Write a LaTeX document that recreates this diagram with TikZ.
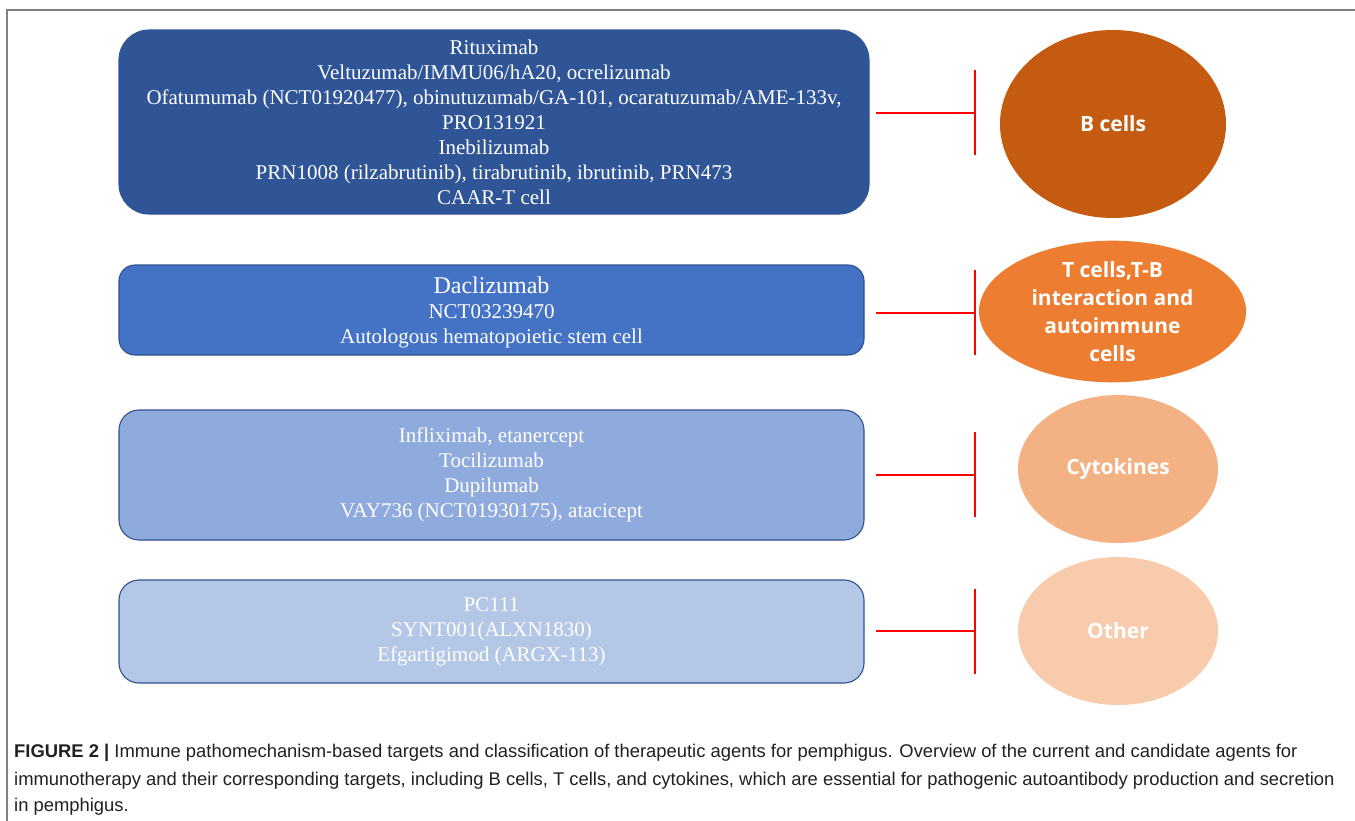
\documentclass[tikz,border=0pt]{standalone}
\usepackage{fontspec}
\setmainfont{Liberation Serif}
\newfontfamily\capfont{Liberation Sans}
\newfontfamily\elfont{Open Sans}
\usetikzlibrary{shapes.geometric}
\definecolor{frameg}{HTML}{808080}
\definecolor{bA}{HTML}{2F5597}
\definecolor{bB}{HTML}{4472C4}
\definecolor{bC}{HTML}{8FAADC}
\definecolor{bD}{HTML}{B4C7E7}
\definecolor{bord}{HTML}{2F528F}
\definecolor{eA}{HTML}{C55A11}
\definecolor{eB}{HTML}{ED7D31}
\definecolor{eC}{HTML}{F4B183}
\definecolor{eD}{HTML}{F8CBAD}
\definecolor{inhred}{HTML}{FF0000}
\definecolor{captxt}{HTML}{231F20}
\tikzset{
  drugbox/.style={draw=bord, line width=1.1pt, rounded corners=#1, text=white, align=center,
    font=\fontsize{21pt}{25pt}\selectfont, inner sep=0pt},
  target/.style={ellipse, draw=none, text=white, align=center, inner sep=0pt,
    font=\elfont\bfseries\fontsize{21pt}{28pt}\selectfont},
  inh/.style={draw=inhred, line width=2.6pt},
  capline/.style={anchor=base west, inner sep=0pt, text=captxt, font=\capfont\fontsize{18.4pt}{26pt}\selectfont}
}
\begin{document}
\begin{tikzpicture}[x=1pt,y=-1pt]
\useasboundingbox (0,0) rectangle (1355,820);
% frame
\draw[frameg, line width=1.4pt] (7,830) -- (7,10) -- (1360,10);
% drug boxes
\node[drugbox=30pt, fill=bA, draw=bA, minimum width=750pt, minimum height=184pt] (b1) at (494,122)
  {Rituximab\\Veltuzumab/IMMU06/hA20, ocrelizumab\\Ofatumumab (NCT01920477), obinutuzumab/GA-101, ocaratuzumab/AME-133v,\\PRO131921\\Inebilizumab\\PRN1008 (rilzabrutinib), tirabrutinib, ibrutinib, PRN473\\CAAR-T cell};
\node[drugbox=16pt, fill=bB, minimum width=745pt, minimum height=90pt] (b2) at (491.5,310) {};
\node[align=center, text=white, inner sep=0pt, font=\fontsize{21pt}{25pt}\selectfont] (b2t) at (491.5,312.5)
  {{\fontsize{24pt}{25pt}\selectfont Daclizumab}\\NCT03239470\\Autologous hematopoietic stem cell};
\node[drugbox=20pt, fill=bC, minimum width=745pt, minimum height=130pt] (b3) at (491.5,475)
  {Infliximab, etanercept\\Tocilizumab\\Dupilumab\\VAY736 (NCT01930175), atacicept};
\node[drugbox=20pt, fill=bD, minimum width=745pt, minimum height=103pt] (b4) at (491.5,631.5)
  {PC111\\SYNT001(ALXN1830)\\Efgartigimod (ARGX-113)};
% targets
\node[target, fill=eA, minimum width=226pt, minimum height=188pt] (e1) at (1113,124) {B cells};
\node[target, fill=eB, minimum width=267pt, minimum height=137pt] (e2) at (1112.5,311.5) {T cells,T-B\\interaction and\\autoimmune\\cells};
\node[target, fill=eC, minimum width=200pt, minimum height=148pt] (e3) at (1118,469) {Cytokines};
\node[target, fill=eD, minimum width=200pt, minimum height=148pt] (e4) at (1118,631) {Other};
% inhibition connectors
\coordinate (s1) at (876,113); \coordinate (t1) at (975,113);
\coordinate (s2) at (876,313); \coordinate (t2) at (975,313);
\coordinate (s3) at (876,475); \coordinate (t3) at (975,475);
\coordinate (s4) at (876,631); \coordinate (t4) at (975,631);
\draw[inh] (s1) -- (t1) (975,70) -- (975,155);
\draw[inh] (s2) -- (t2) (975,270) -- (975,355);
\draw[inh] (s3) -- (t3) (975,432) -- (975,517);
\draw[inh] (s4) -- (t4) (975,589) -- (975,674);
% caption
\node[capline] (c1) at (14,757) {{\bfseries FIGURE 2 |} Immune pathomechanism-based targets and classification of therapeutic agents for pemphigus. Overview of the current and candidate agents for};
\node[capline] (c2) at (14,785) {immunotherapy and their corresponding targets, including B cells, T cells, and cytokines, which are essential for pathogenic autoantibody production and secretion};
\node[capline] (c3) at (14,811) {in pemphigus.};
\end{tikzpicture}
\end{document}
